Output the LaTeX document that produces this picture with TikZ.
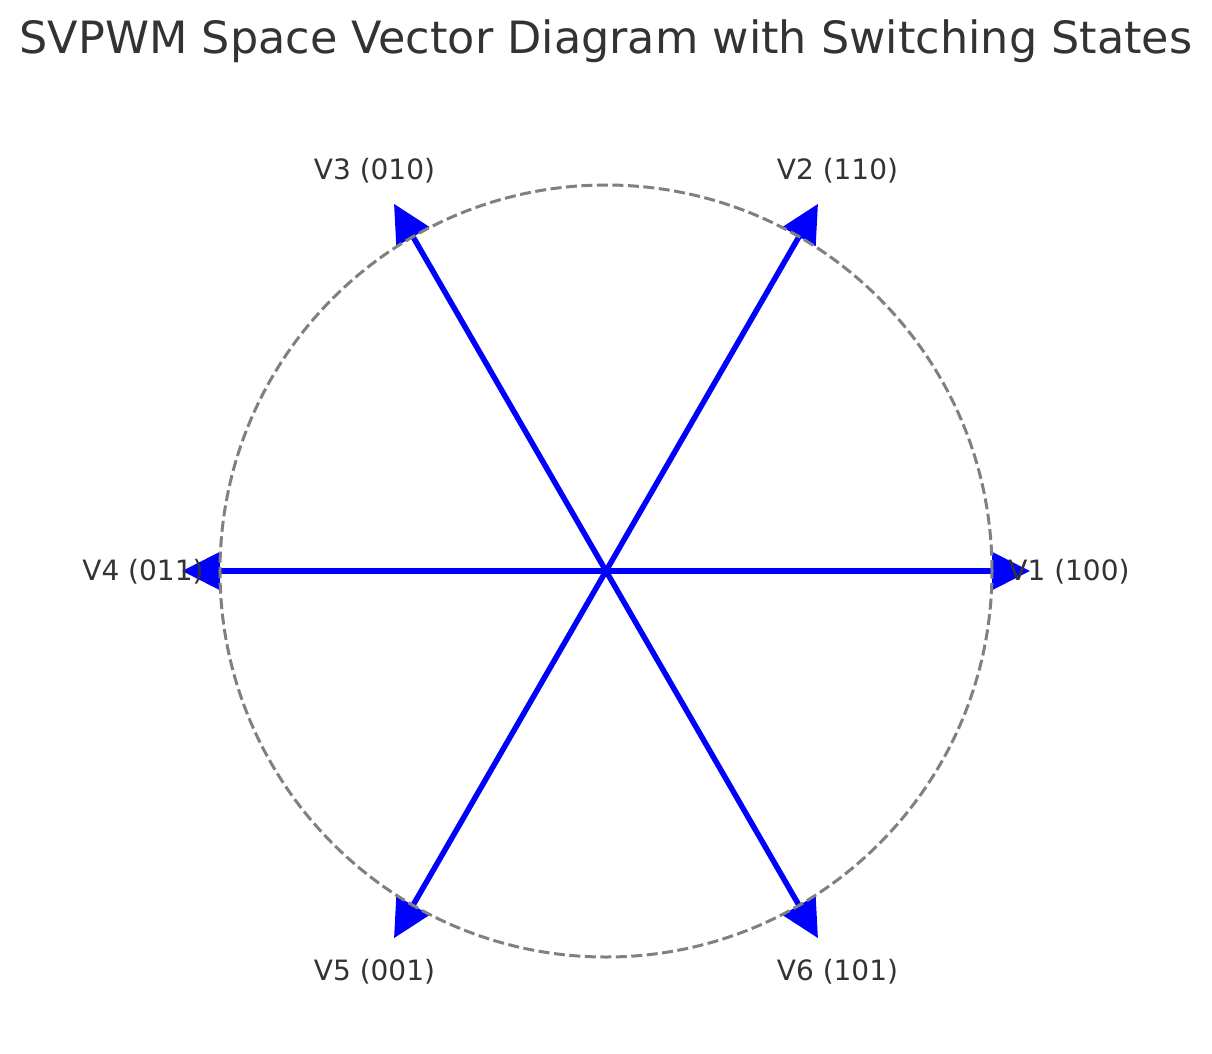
\documentclass[tikz,border=0pt]{standalone}
\usepackage{fontspec}
\setmainfont{DejaVu Sans}
\usetikzlibrary{arrows.meta,calc}
\definecolor{txt}{HTML}{333333}

\begin{document}
\begin{tikzpicture}[
  x=1pt, y=1pt,
  vec/.style={draw=blue, line width=5.5pt,
    -{Triangle[length=38pt, width=37pt, fill=blue]}},
  ring/.style={draw=gray, line width=3pt, dash pattern=on 11pt off 4.5pt},
  vlabel/.style={anchor=base, text=txt, font=\fontsize{28}{33}\selectfont, inner sep=0pt},
  heading/.style={anchor=base, text=txt, font=\fontsize{44.5}{52}\selectfont, inner sep=0pt}
]
\useasboundingbox (-606,-482) rectangle (606,571);

% Title
\node[heading] (title) at (0,517) {SVPWM Space Vector Diagram with Switching States};

% Vectors
\coordinate (O) at (0,0);
\foreach \i/\ang in {1/0, 2/60, 3/120, 4/180, 5/240, 6/300}{
  \coordinate (v\i) at (\ang:424);
  \draw[vec] (O) -- (v\i);
}

% Circle
\draw[ring] (O) circle (386);

% Labels
\foreach \i/\ang/\bits in {1/0/100, 2/60/110, 3/120/010, 4/180/011, 5/240/001, 6/300/101}{
  \node[vlabel] (lab\i) at ($(\ang:463)+(0,-9)$) {V\i{} (\bits)};
}

\end{tikzpicture}
\end{document}
